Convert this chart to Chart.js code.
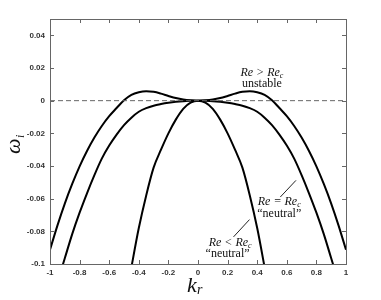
<!DOCTYPE html>
<html>
<head>
<meta charset="utf-8">
<script src="https://cdn.jsdelivr.net/npm/chart.js@4.4.0/dist/chart.umd.min.js"></script>
<style>
  html, body { margin: 0; padding: 0; background: #fff; }
  #wrap { width: 381px; height: 300px; }
</style>
</head>
<body>
<div id="wrap"><canvas id="chart" width="381" height="300"></canvas></div>
<script>
// wavenumber samples (k_r)
const kValues = [-1, -0.95, -0.9, -0.85, -0.8, -0.75, -0.7, -0.65, -0.6, -0.55, -0.5, -0.45, -0.4, -0.35, -0.3, -0.25, -0.2, -0.15, -0.1, -0.05,
    0, 0.05, 0.1, 0.15, 0.2, 0.25, 0.3, 0.35, 0.4, 0.45, 0.5, 0.55, 0.6, 0.65, 0.7, 0.75, 0.8, 0.85, 0.9, 0.95, 1];

// Re > Re_c (unstable)
const omegaUnstable = [-0.0913, -0.0765, -0.0630, -0.0510, -0.0402, -0.0308, -0.0226, -0.0155, -0.0095, -0.0045, 0.0003, 0.0036, 0.0052, 0.0058, 0.0054, 0.0043, 0.0029, 0.0016, 0.0007, 0.0002,
    0, 0.0002, 0.0007, 0.0016, 0.0029, 0.0043, 0.0054, 0.0058, 0.0052, 0.0036, 0.0003, -0.0045, -0.0095, -0.0155, -0.0226, -0.0308, -0.0402, -0.0510, -0.0630, -0.0765, -0.0913];

// Re = Re_c (neutral)
const omegaCritical = [-0.127, -0.1114, -0.0965, -0.0817, -0.0686, -0.0567, -0.0456, -0.0355, -0.0275, -0.0208, -0.0150, -0.0104, -0.0068, -0.0046, -0.0031, -0.0021, -0.0013, -0.0007, -0.0003, -0.0001,
    0, -0.0001, -0.0003, -0.0007, -0.0013, -0.0021, -0.0031, -0.0046, -0.0068, -0.0104, -0.0150, -0.0208, -0.0275, -0.0355, -0.0456, -0.0567, -0.0686, -0.0817, -0.0965, -0.1114, -0.127];

// Re < Re_c (neutral), only the narrow part that is on screen
const kStable = [-0.5, -0.45, -0.4, -0.35, -0.3, -0.25, -0.2, -0.15, -0.1, -0.05, 0, 0.05, 0.1, 0.15, 0.2, 0.25, 0.3, 0.35, 0.4, 0.45, 0.5];
const omegaStable = [-0.127, -0.102, -0.078, -0.058, -0.041, -0.030, -0.020, -0.0116, -0.0050, -0.0012, 0, -0.0012, -0.0050, -0.0116, -0.020, -0.030, -0.041, -0.058, -0.078, -0.102, -0.127];

const zeroLineK = [-1, 1];
const zeroLineOmega = [0, 0];

const xTickValues = [-1, -0.8, -0.6, -0.4, -0.2, 0, 0.2, 0.4, 0.6, 0.8, 1];
const yTickValues = [-0.1, -0.08, -0.06, -0.04, -0.02, 0, 0.02, 0.04];

// text labels placed in data coordinates
const notes = [
    { k: 0.432, w: 0.0171, main: 'Re > Re', sub: 'c', italic: true },
    { k: 0.432, w: 0.0104, main: 'unstable' },
    { k: 0.549, w: -0.0618, main: 'Re = Re', sub: 'c', italic: true },
    { k: 0.549, w: -0.0692, main: '\u201Cneutral\u201D' },
    { k: 0.217, w: -0.0869, main: 'Re < Re', sub: 'c', italic: true },
    { k: 0.200, w: -0.0936, main: '\u201Cneutral\u201D' }
];
const leaders = [
    [[0.662, -0.0488], [0.556, -0.059]],
    [[0.348, -0.0728], [0.240, -0.0834]]
];

const serif = '"Liberation Serif", "DejaVu Serif", serif';
const pts = (xs, ys) => xs.map((x, i) => ({ x: x, y: ys[i] }));

// frame, inward ticks, axis names and annotations
const decoPlugin = {
    id: 'deco',
    afterDraw(chart) {
        const ctx = chart.ctx;
        const a = chart.chartArea;
        const sx = chart.scales.x, sy = chart.scales.y;
        ctx.save();
        ctx.strokeStyle = '#666';
        ctx.lineWidth = 1;
        ctx.strokeRect(Math.round(a.left) + 0.5, Math.round(a.top) + 0.5, Math.round(a.right - a.left), Math.round(a.bottom - a.top));
        ctx.beginPath();
        xTickValues.forEach(v => {
            const px = Math.round(sx.getPixelForValue(v)) + 0.5;
            ctx.moveTo(px, a.bottom); ctx.lineTo(px, a.bottom - 4);
            ctx.moveTo(px, a.top); ctx.lineTo(px, a.top + 4);
        });
        yTickValues.forEach(v => {
            const py = Math.round(sy.getPixelForValue(v)) + 0.5;
            ctx.moveTo(a.left, py); ctx.lineTo(a.left + 4, py);
            ctx.moveTo(a.right, py); ctx.lineTo(a.right - 4, py);
        });
        ctx.stroke();

        // leader lines
        ctx.strokeStyle = '#222';
        ctx.beginPath();
        leaders.forEach(l => {
            ctx.moveTo(sx.getPixelForValue(l[0][0]), sy.getPixelForValue(l[0][1]));
            ctx.lineTo(sx.getPixelForValue(l[1][0]), sy.getPixelForValue(l[1][1]));
        });
        ctx.stroke();

        // annotations
        ctx.fillStyle = '#111';
        ctx.textBaseline = 'middle';
        notes.forEach(n => {
            const cx = sx.getPixelForValue(n.k), cy = sy.getPixelForValue(n.w);
            const mainFont = (n.italic ? 'italic ' : '') + '12px ' + serif;
            const subFont = (n.italic ? 'italic ' : '') + '8px ' + serif;
            ctx.font = mainFont;
            const w1 = ctx.measureText(n.main).width;
            ctx.font = subFont;
            const w2 = n.sub ? ctx.measureText(n.sub).width : 0;
            let x0 = cx - (w1 + w2) / 2;
            ctx.textAlign = 'left';
            ctx.font = mainFont;
            ctx.fillText(n.main, x0, cy);
            if (n.sub) {
                ctx.font = subFont;
                ctx.fillText(n.sub, x0 + w1, cy + 3);
            }
        });

        // axis names
        ctx.textAlign = 'left';
        ctx.textBaseline = 'alphabetic';
        ctx.font = 'italic 22px ' + serif;
        ctx.fillText('k', 187, 292);
        ctx.font = 'italic 14px ' + serif;
        ctx.fillText('r', 197, 294);

        ctx.translate(20, 154);
        ctx.rotate(-Math.PI / 2);
        ctx.font = 'italic 22px ' + serif;
        ctx.fillText('\u03C9', 0, 0);
        ctx.font = 'italic 12px ' + serif;
        ctx.fillText('i', 16, 4);
        ctx.restore();
    }
};

const tickFont = { family: '"Liberation Sans", Arial, sans-serif', size: 8, weight: 'bold' };

new Chart(document.getElementById('chart'), {
    type: 'line',
    data: {
        datasets: [
            { data: pts(zeroLineK, zeroLineOmega), borderColor: '#666', borderWidth: 1, borderDash: [5, 3], pointRadius: 0 },
            { data: pts(kValues, omegaUnstable), borderColor: '#000', borderWidth: 2, pointRadius: 0, cubicInterpolationMode: 'monotone' },
            { data: pts(kValues, omegaCritical), borderColor: '#000', borderWidth: 2, pointRadius: 0, cubicInterpolationMode: 'monotone' },
            { data: pts(kStable, omegaStable), borderColor: '#000', borderWidth: 2, pointRadius: 0, cubicInterpolationMode: 'monotone' }
        ]
    },
    options: {
        responsive: false,
        animation: false,
        layout: { padding: { top: 19, right: 35, left: 0, bottom: 0 } },
        plugins: { legend: { display: false }, tooltip: { enabled: false } },
        scales: {
            x: {
                type: 'linear',
                min: -1, max: 1,
                grid: { display: false, drawTicks: false },
                border: { display: false },
                afterBuildTicks: scale => { scale.ticks = xTickValues.map(v => ({ value: v })); },
                afterFit: scale => { scale.height = 36; },
                ticks: { padding: 4, color: '#333', font: tickFont, maxRotation: 0, callback: v => String(+v.toFixed(2)) }
            },
            y: {
                type: 'linear',
                min: -0.1, max: 0.05,
                grid: { display: false, drawTicks: false },
                border: { display: false },
                afterBuildTicks: scale => { scale.ticks = yTickValues.map(v => ({ value: v })); },
                afterFit: scale => { scale.width = 50; },
                ticks: { padding: 5, color: '#333', font: tickFont, callback: v => String(+v.toFixed(2)) }
            }
        }
    },
    plugins: [decoPlugin]
});
</script>
</body>
</html>
